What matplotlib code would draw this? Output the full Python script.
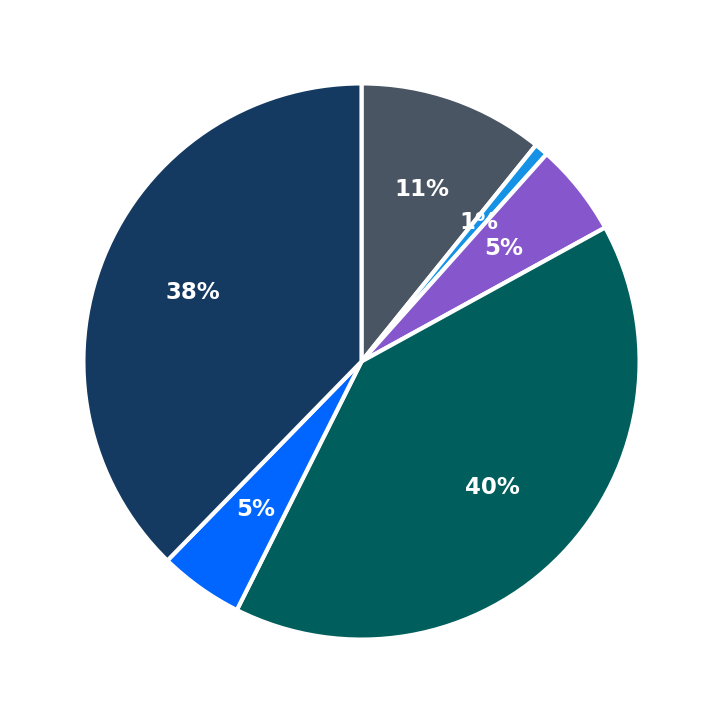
import matplotlib
matplotlib.use("Agg")
import matplotlib.pyplot as plt

# slice shares (percent), clockwise from 12 o'clock
shares = [10.8, 0.8, 5.4, 40.4, 4.9, 37.7]
colors = ["#4a5563", "#1592e6", "#8657cc", "#005e5d", "#0066ff", "#143a62"]

fig = plt.figure(figsize=(7.23, 7.23), dpi=100)
ax = fig.add_axes([0, 0, 1, 1])

wedges, texts, autotexts = ax.pie(
    shares, colors=colors, startangle=90, counterclock=False,
    autopct="%.0f%%", pctdistance=0.655,
    wedgeprops=dict(edgecolor="white", linewidth=3),
    textprops=dict(color="white", fontsize=16.5, fontweight="bold"),
)
ax.set_aspect("equal")
ax.set_xlim(-1.30, 1.30)
ax.set_ylim(-1.30, 1.30)

fig.savefig("out.png", dpi=100)
